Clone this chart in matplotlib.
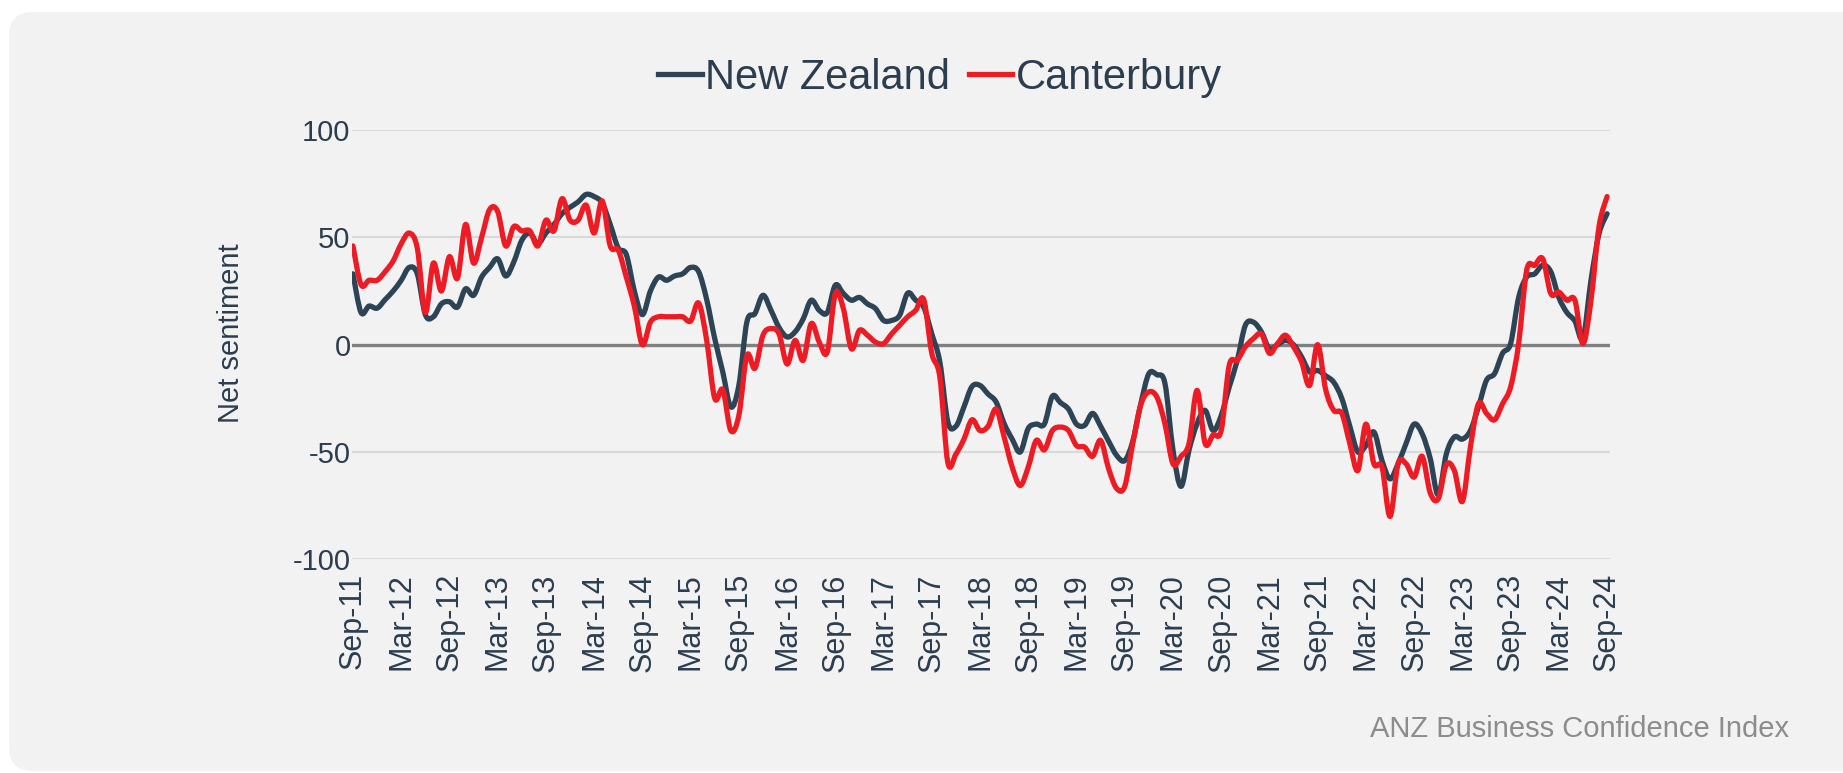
import matplotlib
matplotlib.use("Agg")
import matplotlib.pyplot as plt
from matplotlib.patches import FancyBboxPatch, PathPatch
from matplotlib.path import Path
from matplotlib.lines import Line2D
from matplotlib.transforms import IdentityTransform

plt.rcParams['font.family'] = ['Liberation Sans', 'DejaVu Sans']

# monthly net sentiment, Sep-11 .. Sep-24
new_zealand = [
    33, 15, 18, 17, 21, 25, 30, 36, 33, 14, 13, 19, 20, 17.5, 26, 23, 31.5, 36, 40, 32,
    38.5, 48.6, 52, 47, 52, 56, 61, 64, 66.5, 70, 69, 66, 56, 45, 42, 25, 14, 25, 31.5, 30,
    32, 33, 36, 34, 21, 2.8, -12.7, -29, -19, 10.6, 14.5, 23, 16, 8, 3.6, 6, 12, 20.7, 16, 15,
    27.7, 23.8, 20.7, 22, 19, 16.8, 11.3, 11.3, 13.7, 24, 20.7, 17.5, 5, -8, -36, -38, -29, -19.5, -19, -23,
    -26.7, -36.8, -44, -50, -39, -37, -37, -24, -27, -30, -37, -37.6, -32, -38, -45, -51.6, -54, -45, -27.5, -13.5,
    -14, -18, -49, -66, -49, -36.8, -30.6, -40, -33, -19.7, -7.3, 9, 10.5, 6, -2, 0, 2, 0, -5.7, -12.7,
    -12, -14.5, -17.5, -25, -38, -50, -47, -40.7, -54, -62.5, -55.5, -46, -37, -41.5, -53, -70, -51, -43, -44, -40,
    -29, -16.6, -13.5, -4, 0.5, 22, 31.5, 33, 37, 34, 22, 15, 11, 3, 30, 51.7, 61,
]
canterbury = [
    46, 28, 30, 30, 34, 39, 47, 52, 45, 15, 38, 25, 41, 31, 56, 38, 50, 63, 62, 46,
    55, 53, 53, 46, 58, 53, 68, 58, 58, 65, 52, 67, 46, 44, 31.5, 18, 0, 10.5, 13, 13,
    13, 13, 11, 19.4, 2, -25, -21, -40, -33, -5, -11, 4.4, 7.5, 5, -9, 2, -7.3, 9.8, 1.2, -3.4,
    23.8, 16.8, -1.9, 6.7, 4.4, 1.2, 0.5, 5, 9, 13, 16, 21, -4, -15, -55, -51, -44, -35, -40, -38,
    -30, -43, -57, -65.6, -57, -44.6, -49, -40, -38.4, -40, -47, -47.7, -52, -44.6, -57.8, -67, -66, -46, -28, -22,
    -24.4, -36.8, -55.5, -52, -46, -21.3, -46, -42, -40, -9.6, -7.3, -1, 2.8, 5, -4, 0.5, 4.4, -1, -8, -19,
    0, -21, -30.6, -32, -46, -58.6, -37, -55.5, -57, -80, -55.5, -55.5, -61.7, -52, -69, -71.8, -56, -58.6, -73, -47.7,
    -27.5, -32, -35, -27.5, -19.7, 0.5, 34.7, 37, 40, 23.8, 24.5, 20.7, 20.7, 0.5, 20.7, 55, 69,
]
tick_labels = [
    "Sep-11", "Mar-12", "Sep-12", "Mar-13", "Sep-13", "Mar-14", "Sep-14", "Mar-15", "Sep-15",
    "Mar-16", "Sep-16", "Mar-17", "Sep-17", "Mar-18", "Sep-18", "Mar-19", "Sep-19", "Mar-20",
    "Sep-20", "Mar-21", "Sep-21", "Mar-22", "Sep-22", "Mar-23", "Sep-23", "Mar-24", "Sep-24",
]
y_ticks = [-100, -50, 0, 50, 100]

text_col = "#2b3d4f"
nz_col = "#2c4456"
cant_col = "#ed1c24"


def smooth_path(xs, ys):
    # spreadsheet-style "smoothed line": bezier segments through every point
    n = len(xs)
    verts = [(xs[0], ys[0])]
    codes = [Path.MOVETO]
    for i in range(n - 1):
        p0 = max(i - 1, 0)
        p3 = min(i + 2, n - 1)
        c1 = (xs[i] + (xs[i + 1] - xs[p0]) / 6, ys[i] + (ys[i + 1] - ys[p0]) / 6)
        c2 = (xs[i + 1] - (xs[p3] - xs[i]) / 6, ys[i + 1] - (ys[p3] - ys[i]) / 6)
        verts += [c1, c2, (xs[i + 1], ys[i + 1])]
        codes += [Path.CURVE4] * 3
    return Path(verts, codes)


fig = plt.figure(figsize=(18.43, 7.73), dpi=100)
fig.patch.set_facecolor("white")

# rounded grey panel behind everything
panel = FancyBboxPatch((9, 2), 1880, 759, boxstyle="round,pad=0,rounding_size=24",
                       transform=IdentityTransform(), facecolor="#f2f2f2", edgecolor="none", zorder=-5)
fig.patches.append(panel)

ax = fig.add_axes([0.191, 0.2764, 0.6826, 0.5554])
ax.set_facecolor("none")

months = list(range(len(new_zealand)))
for series, col, z in [(new_zealand, nz_col, 3), (canterbury, cant_col, 4)]:
    ax.add_patch(PathPatch(smooth_path(months, series), facecolor="none", edgecolor=col,
                           lw=3.8, joinstyle="round", capstyle="round", zorder=z))

ax.set_ylim(-100, 100)
ax.set_xlim(-0.12, len(months) - 1 + 0.37)
ax.set_yticks(y_ticks)
ax.set_yticklabels([str(v) for v in y_ticks])
for v in y_ticks:
    if v == 0:
        ax.axhline(v, color="#808080", lw=2.4, zorder=2)
    else:
        ax.axhline(v, color="#d9d9d9", lw=1.5, zorder=1)

ax.set_xticks(range(0, len(months), 6))
ax.set_xticklabels(tick_labels, rotation=90)
ax.tick_params(axis="both", length=0, colors=text_col)
ax.tick_params(axis="x", pad=10, labelsize=22)
ax.tick_params(axis="y", pad=1, labelsize=21)
for s in ax.spines.values():
    s.set_visible(False)

ax.set_ylabel("Net sentiment", fontsize=21, color=text_col)
ax.yaxis.set_label_coords(-0.085, 0.527)

handles = [Line2D([], [], color=nz_col, lw=3.8), Line2D([], [], color=cant_col, lw=3.8)]
fig.legend(handles, ["New Zealand", "Canterbury"], loc="center", bbox_to_anchor=(0.51, 0.899),
           ncol=2, frameon=False, fontsize=30, handlelength=1.05, handletextpad=0.08,
           columnspacing=0.45, labelcolor=text_col)

fig.text(0.9707, 0.057, "ANZ Business Confidence Index", ha="right", va="center",
         fontsize=21, color="#8c8c8c")

fig.savefig("out.png", dpi=100, facecolor=fig.get_facecolor())
